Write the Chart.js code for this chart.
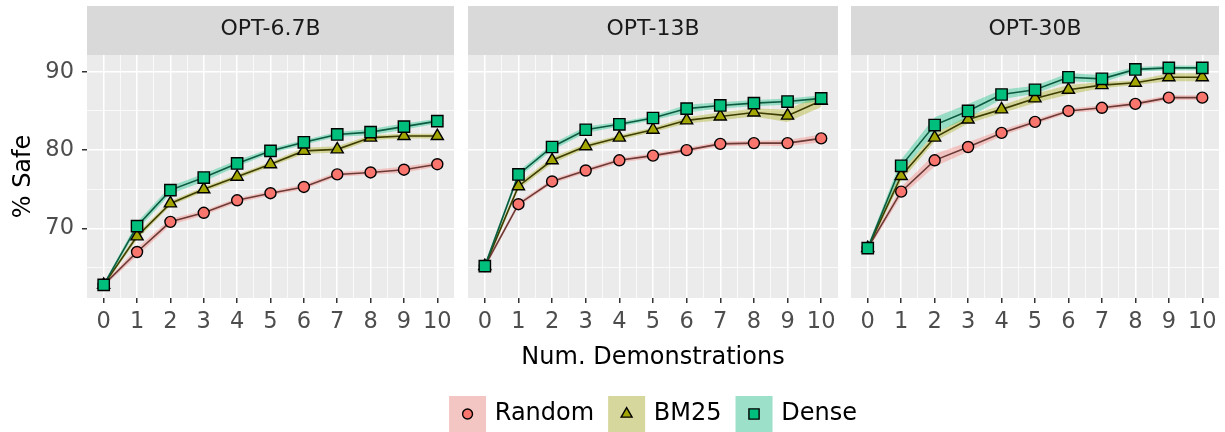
<!DOCTYPE html>
<html>
<head>
<meta charset="utf-8">
<title>% Safe vs demonstrations</title>
<script src="https://cdn.jsdelivr.net/npm/chart.js@4.4.0/dist/chart.umd.min.js"></script>
<style>
  body { margin: 0; background: #ffffff; }
  #wrap { position: relative; width: 1225px; height: 432px; overflow: hidden; }
  canvas { position: absolute; top: 0; }
</style>
</head>
<body>
<div id="wrap">
  <canvas id="panel-1" width="460" height="432" style="left:0px"></canvas>
  <canvas id="panel-2" width="440" height="432" style="left:440px"></canvas>
  <canvas id="panel-3" width="380" height="432" style="left:845px"></canvas>
</div>
<script>
// data
const demos = [0, 1, 2, 3, 4, 5, 6, 7, 8, 9, 10];
const panelNames = ['OPT-6.7B', 'OPT-13B', 'OPT-30B'];
const methodNames = ['Random', 'BM25', 'Dense'];
const yTickLabels = [70, 80, 90];

const opt67Random = [62.8, 67.0, 70.85, 72.0, 73.6, 74.5, 75.3, 76.9, 77.15, 77.5, 78.2];
const opt67Bm25   = [62.8, 69.0, 73.2, 75.0, 76.6, 78.2, 79.9, 80.1, 81.6, 81.8, 81.8];
const opt67Dense  = [62.8, 70.3, 74.9, 76.5, 78.3, 79.9, 81.0, 82.0, 82.3, 83.0, 83.7];

const opt13Random = [65.2, 73.1, 76.0, 77.4, 78.7, 79.3, 80.0, 80.8, 80.9, 80.9, 81.5];
const opt13Bm25   = [65.2, 75.4, 78.7, 80.5, 81.6, 82.6, 83.8, 84.3, 84.8, 84.4, 86.3];
const opt13Dense  = [65.2, 76.9, 80.4, 82.6, 83.3, 84.1, 85.3, 85.7, 86.0, 86.2, 86.6];

const opt30Random = [67.5, 74.7, 78.7, 80.4, 82.2, 83.6, 85.0, 85.4, 85.9, 86.7, 86.7];
const opt30Bm25   = [67.5, 76.7, 81.6, 83.9, 85.2, 86.6, 87.7, 88.3, 88.6, 89.3, 89.3];
const opt30Dense  = [67.5, 78.0, 83.2, 85.0, 87.1, 87.7, 89.3, 89.1, 90.3, 90.5, 90.5];

// half-width of the shaded bands
const opt67RandomErr = [0.2, 0.5, 0.4, 0.3, 0.3, 0.3, 0.3, 0.3, 0.3, 0.4, 0.3];
const opt67Bm25Err   = [0.2, 0.4, 0.3, 0.3, 0.3, 0.3, 0.4, 0.4, 0.3, 0.3, 0.3];
const opt67DenseErr  = [0.2, 0.5, 0.5, 0.5, 0.4, 0.3, 0.3, 0.3, 0.4, 0.4, 0.3];
const opt13RandomErr = [0.3, 0.3, 0.3, 0.3, 0.3, 0.3, 0.3, 0.3, 0.3, 0.4, 0.5];
const opt13Bm25Err   = [0.3, 0.4, 0.4, 0.3, 0.3, 0.3, 0.4, 0.5, 0.5, 0.8, 0.8];
const opt13DenseErr  = [0.3, 0.4, 0.4, 0.4, 0.3, 0.3, 0.5, 0.4, 0.4, 0.4, 0.4];
const opt30RandomErr = [0.3, 0.6, 0.8, 0.6, 0.4, 0.3, 0.3, 0.3, 0.3, 0.3, 0.3];
const opt30Bm25Err   = [0.3, 0.6, 0.5, 0.5, 0.5, 0.6, 0.6, 0.4, 0.3, 0.5, 0.5];
const opt30DenseErr  = [0.3, 0.8, 1.0, 0.9, 0.6, 0.5, 0.5, 0.5, 0.3, 0.3, 0.3];

const panelSeries = [
  { Random: [opt67Random, opt67RandomErr], BM25: [opt67Bm25, opt67Bm25Err], Dense: [opt67Dense, opt67DenseErr] },
  { Random: [opt13Random, opt13RandomErr], BM25: [opt13Bm25, opt13Bm25Err], Dense: [opt13Dense, opt13DenseErr] },
  { Random: [opt30Random, opt30RandomErr], BM25: [opt30Bm25, opt30Bm25Err], Dense: [opt30Dense, opt30DenseErr] }
];

const styles = {
  Random: { fill: '#F8766D', line: '#6B3A37', band: 'rgba(248, 118, 109, 0.35)', point: 'circle', radius: 5.5 },
  BM25:   { fill: '#A3A500', line: '#3E3E00', band: 'rgba(163, 165, 0, 0.35)',   point: 'triangle', radius: 7 },
  Dense:  { fill: '#00BF7D', line: '#0B5B3F', band: 'rgba(0, 191, 125, 0.35)',   point: 'rect', radius: 8 }
};

const FONT = '"DejaVu Sans", sans-serif';
Chart.defaults.font.family = FONT;

const CLEAR = 'rgba(0,0,0,0)';
const isWhole = v => Math.abs(v - Math.round(v)) < 1e-6;

// grey strip with the facet name + panel background
const stripPlugin = {
  id: 'strip',
  beforeDraw(chart, args, opts) {
    const { ctx, chartArea: a } = chart;
    ctx.save();
    ctx.fillStyle = '#D9D9D9';
    ctx.fillRect(a.left, 6, a.right - a.left, a.top - 6);
    ctx.fillStyle = '#EBEBEB';
    ctx.fillRect(a.left, a.top, a.right - a.left, a.bottom - a.top);
    ctx.fillStyle = '#1A1A1A';
    ctx.font = '22px ' + FONT;
    ctx.textAlign = 'center';
    ctx.textBaseline = 'middle';
    ctx.fillText(opts.text, (a.left + a.right) / 2, (6 + a.top) / 2 - 1);
    ctx.restore();
  }
};

// ggplot-like legend: shaded key box with the marker inside
const keyLegendPlugin = {
  id: 'keyLegend',
  afterDraw(chart, args, opts) {
    if (!opts.show) return;
    const { ctx, chartArea: a } = chart;
    const box = 37, boxH = 36, gap = 8.7, space = 14;
    ctx.save();
    ctx.font = '24px ' + FONT;
    const widths = methodNames.map(m => ctx.measureText(m).width);
    const total = widths.reduce((s, w) => s + box + gap + w, 0) + space * (methodNames.length - 1);
    let x = (a.left + a.right) / 2 - total / 2;
    const top = chart.height - boxH;
    const cy = top + boxH / 2;
    methodNames.forEach((m, i) => {
      const st = styles[m];
      ctx.fillStyle = '#F2F2F2';
      ctx.fillRect(x, top, box, boxH);
      ctx.fillStyle = st.band;
      ctx.fillRect(x, top, box, boxH);
      ctx.fillStyle = st.fill;
      ctx.strokeStyle = '#000000';
      ctx.lineWidth = 1.4;
      Chart.helpers.drawPoint(ctx, { pointStyle: st.point, radius: st.radius * 0.9, borderWidth: 1.4, rotation: 0 }, x + box / 2, cy);
      ctx.fillStyle = '#000000';
      ctx.textAlign = 'left';
      ctx.textBaseline = 'middle';
      ctx.fillText(m, x + box + gap, cy);
      x += box + gap + widths[i] + space;
    });
    ctx.restore();
  }
};

function buildDatasets(series) {
  const order = ['Dense', 'BM25', 'Random'];
  const pts = (vals) => demos.map((d, i) => ({ x: d, y: vals[i] }));
  const sets = [];
  // markers on top
  order.forEach(m => {
    const st = styles[m];
    sets.push({
      label: m, data: pts(series[m][0]), showLine: false,
      pointStyle: st.point, pointRadius: st.radius,
      pointBackgroundColor: st.fill, pointBorderColor: '#000000', pointBorderWidth: 1.4
    });
  });
  // connecting lines
  order.forEach(m => {
    sets.push({
      label: m + ' line', data: pts(series[m][0]),
      borderColor: styles[m].line, borderWidth: 1.6, pointRadius: 0, tension: 0, fill: false
    });
  });
  // shaded bands (upper filled down to lower)
  order.forEach(m => {
    const [vals, err] = series[m];
    const idx = sets.length;
    sets.push({
      label: m + ' upper', data: demos.map((d, i) => ({ x: d, y: vals[i] + err[i] })),
      borderColor: CLEAR, borderWidth: 0, pointRadius: 0, tension: 0,
      backgroundColor: styles[m].band, fill: { target: idx + 1 }
    });
    sets.push({
      label: m + ' lower', data: demos.map((d, i) => ({ x: d, y: vals[i] - err[i] })),
      borderColor: CLEAR, borderWidth: 0, pointRadius: 0, tension: 0, fill: false
    });
  });
  return sets;
}

function makePanel(canvasId, p, pad, showY, showX) {
  const ctx = document.getElementById(canvasId).getContext('2d');
  return new Chart(ctx, {
    type: 'line',
    data: { datasets: buildDatasets(panelSeries[p]) },
    options: {
      responsive: false,
      animation: false,
      events: [],
      layout: { autoPadding: false, padding: { top: 55, bottom: 0, left: pad[0], right: pad[1] } },
      plugins: {
        legend: { display: false },
        tooltip: { enabled: false },
        strip: { text: panelNames[p] },
        keyLegend: { show: showX }
      },
      scales: {
        x: {
          type: 'linear', min: -0.5, max: 10.5,
          afterFit: s => { s.height = 134; },
          border: { display: false },
          grid: {
            color: c => (c.tick.value < -1e-6 || c.tick.value > 10 + 1e-6) ? CLEAR : '#FFFFFF',
            lineWidth: c => isWhole(c.tick.value) ? 1.5 : 0.75,
            tickLength: 5,
            tickWidth: 1.5,
            tickColor: c => (isWhole(c.tick.value) && c.tick.value >= 0 && c.tick.value <= 10) ? '#333333' : CLEAR
          },
          ticks: {
            stepSize: 0.5, maxTicksLimit: 100, autoSkip: false, maxRotation: 0, includeBounds: false,
            padding: 6, color: '#4D4D4D', font: { size: 22.5 },
            callback: v => (isWhole(v) && v >= 0 && v <= 10) ? String(Math.round(v)) : ''
          },
          title: {
            display: showX, text: 'Num. Demonstrations', color: '#000000',
            font: { size: 24 }, padding: { top: 0, bottom: 60 }
          }
        },
        y: {
          min: 61.13, max: 92.14,
          afterFit: s => { s.width = showY ? 87 : 0; },
          border: { display: false },
          grid: {
            color: '#FFFFFF',
            lineWidth: c => yTickLabels.includes(c.tick.value) ? 1.5 : 0.75,
            drawTicks: showY,
            tickLength: 5,
            tickWidth: 1.5,
            tickColor: c => yTickLabels.includes(c.tick.value) ? '#333333' : CLEAR
          },
          ticks: {
            display: showY, stepSize: 5, includeBounds: false, padding: 8,
            color: '#4D4D4D', font: { size: 22.5 },
            callback: v => yTickLabels.includes(v) ? String(v) : ''
          },
          title: {
            display: showY, text: '% Safe', color: '#000000',
            font: { size: 24 }, padding: { top: 9, bottom: 0 }
          }
        }
      }
    },
    plugins: [stripPlugin, keyLegendPlugin]
  });
}

makePanel('panel-1', 0, [0, 3], true, false);
makePanel('panel-2', 1, [28, 42], false, true);
makePanel('panel-3', 2, [5.5, 5], false, false);
</script>
</body>
</html>
